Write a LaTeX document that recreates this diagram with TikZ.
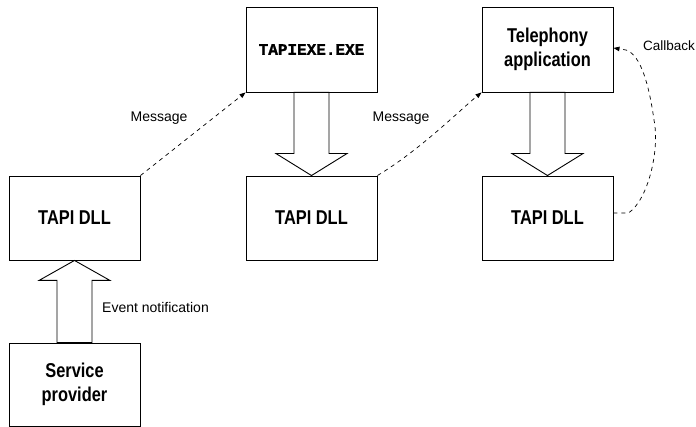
\documentclass[tikz,border=0pt]{standalone}
\usepackage{fontspec}
\setmainfont{Liberation Sans}
\newfontfamily\boxfont[FakeStretch=0.82]{Liberation Sans}
\newfontfamily\exefont[FakeBold=1.5]{Liberation Mono}
\usetikzlibrary{arrows.meta,calc}
\begin{document}
\begin{tikzpicture}[x=1pt,y=-1pt,
  box/.style={draw,line width=0.9pt,minimum width=131pt,minimum height=84pt,inner sep=0pt,align=center,
    font=\boxfont\bfseries\fontsize{20}{24}\selectfont},
  exebox/.style={box,font=\exefont\bfseries\fontsize{16}{19}\selectfont},
  lbl/.style={font=\fontsize{14}{16}\selectfont,inner sep=0pt},
  msg/.style={dashed,dash pattern=on 4pt off 4pt,line width=0.7pt,-{Triangle[length=6pt,width=4.5pt]}},
  blockarrow/.style={draw,line width=0.9pt,line join=miter}]
\useasboundingbox (0,0) rectangle (696,427);
\node[box] (L) at (74.5,218) {TAPI DLL};
\node[box,minimum height=83pt] (SP) at (74.5,384.5) {Service\\provider};
\node[exebox,minimum height=85pt] (TE) at (311.5,49.5) {TAPIEXE.EXE};
\node[box] (M) at (311.5,218) {TAPI DLL};
\node[box,minimum height=85pt] (TA) at (547.5,49.5) {Telephony\\application};
\node[box] (R) at (547.5,218) {TAPI DLL};
% block arrows
\draw[blockarrow] (L.south) -- ++(35.5,20) -- ++(-18,0) -- ($(SP.north)+(17.5,0)$)
  -- ($(SP.north)+(-17.5,0)$) -- ($(L.south)+(-17.5,20)$) -- ++(-18,0) -- cycle;
\draw[blockarrow] (M.north) -- ++(35.5,-22) -- ++(-18,0) -- ($(TE.south)+(17.5,0)$)
  -- ($(TE.south)+(-17.5,0)$) -- ($(M.north)+(-17.5,-22)$) -- ++(-18,0) -- cycle;
\draw[blockarrow] (R.north) -- ++(35.5,-22) -- ++(-18,0) -- ($(TA.south)+(17.5,0)$)
  -- ($(TA.south)+(-17.5,0)$) -- ($(R.north)+(-17.5,-22)$) -- ++(-18,0) -- cycle;
% messages
\draw[msg] (L.north east) -- (TE.south west);
\draw[msg] (M.north east) .. controls (420,150) and (460,110) .. (TA.south west);
\node[lbl] (m1) at (159,118) {Message};
\node[lbl] (m2) at (401,118) {Message};
\node[lbl,anchor=west] (en) at (102,307) {Event notification};
% callback
\coordinate (cbs) at ($(R.east)+(0,-5)$);
\coordinate (cbe) at ($(TA.east)+(0,-1.5)$);
\draw[msg] (cbs) -- ++(15,0) .. controls (648,200) and (660,150) .. (654,120)
  .. controls (649,85) and (641,55) .. (626,50) -- (cbe);
\node[lbl,anchor=west,font=\fontsize{13.5}{16}\selectfont] (cb) at (643,46) {Callback};
\end{tikzpicture}
\end{document}
